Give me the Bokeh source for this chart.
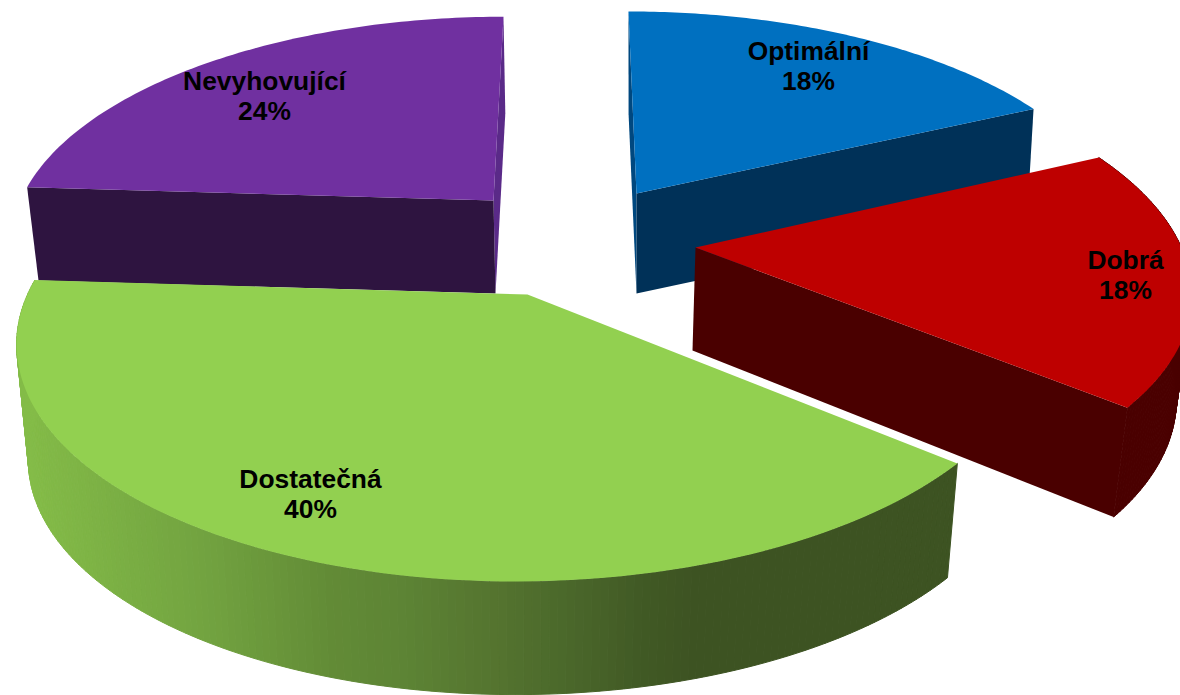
import numpy as np
from bokeh.plotting import figure
from bokeh.models import ColumnDataSource
from bokeh.core.properties import value
from bokeh.embed import file_html
from bokeh.resources import INLINE

# ---- data ----
categories = ["Optimální", "Dobrá", "Dostatečná", "Nevyhovující"]
percent = [18, 18, 40, 24]

# ---- style ----
top_colors = ["#0070C0", "#BE0000", "#92D050", "#7030A0"]
side_colors = ["#003158", "#4A0000", "#3D5322", "#2E1440"]
sliver_colors = ["#00487F", None, None, "#5A2A88"]
green_stop_x = [20, 200, 330, 400, 500, 560, 650, 700, 960]
green_stop_rgb = [(0x84, 0xBC, 0x48), (0x72, 0xA3, 0x40), (0x62, 0x8B, 0x36), (0x5D, 0x84, 0x35),
                  (0x54, 0x73, 0x2F), (0x4B, 0x69, 0x2B), (0x40, 0x58, 0x24), (0x3D, 0x53, 0x22), (0x3D, 0x53, 0x22)]

# ---- projection of each exploded slice: apex, perspective, depth ----
layout = [
    dict(ax=636, ay=193, A=475, B=213, k=0.17, D=9.4, bx=636, by=293, sx=0.985, sy=0.985, label=(808, 50)),
    dict(ax=695, ay=247, A=486, B=225.6, k=0.16, D=21, bx=692, by=350, sx=0.975, sy=1.04, label=(1125, 259)),
    dict(ax=527, ay=294, A=500, B=233.6, k=0.186, D=-10, bx=527, by=410, sx=0.977, sy=0.99, label=(310, 478)),
    dict(ax=493, ay=200, A=473, B=215, k=0.17, D=-11.7, bx=495, by=293, sx=0.98, sy=0.98, label=(264, 80)),
]
LINE_GAP = 30


def project(L, theta):
    u, v = np.cos(theta), np.sin(theta)
    w = 1 - L["k"] * v
    return (L["A"] * u + L["D"] * v) / w, L["B"] * v / w


def ring(L, theta, lower=False):
    X, Y = project(L, theta)
    if lower:
        return L["bx"] + L["sx"] * X, L["by"] + L["sy"] * Y
    return L["ax"] + X, L["ay"] + Y


total = sum(percent)
edges = np.radians(270 + 360 * np.concatenate([[0], np.cumsum(percent)]) / total)

p = figure(width=1180, height=695, x_range=(0, 1180), y_range=(695, 0),
           output_backend="svg", toolbar_location=None, min_border=0,
           background_fill_color="white", border_fill_color="white", outline_line_color=None)
p.axis.visible = False
p.grid.visible = False


def poly(xs, ys, color, seam=False):
    p.patch(list(xs), list(ys), fill_color=color,
            line_color=color if seam else None, line_width=1 if seam else 0)


def wedge(i):
    L = layout[i]
    t0, t1 = edges[i], edges[i + 1]
    th = np.linspace(t0, t1, 90)
    ax, ay = ring(L, th)
    return L, t0, t1, th, ax, ay


def radial_face(L, t, color):
    x1, y1 = ring(L, t)
    x2, y2 = ring(L, t, True)
    poly([L["ax"], x1, x2, L["bx"]], [L["ay"], y1, y2, L["by"]], color)


def draw_top(i):
    L, t0, t1, th, ax, ay = wedge(i)
    poly(np.r_[L["ax"], ax], np.r_[L["ay"], ay], top_colors[i])


# Nevyhovující (back left)
i = 3
radial_face(layout[i], edges[i + 1], sliver_colors[i])
radial_face(layout[i], edges[i], side_colors[i])
draw_top(i)

# Optimální (back right)
i = 0
radial_face(layout[i], edges[i], sliver_colors[i])
radial_face(layout[i], edges[i + 1], side_colors[i])
draw_top(i)

# Dostatečná (front) : outer wall shaded left to right
i = 2
L, t0, t1, th, ax, ay = wedge(i)
th = np.linspace(t0, t1, 181)
rgb = np.array(green_stop_rgb, dtype=float)
for a, b in zip(th[:-1], th[1:]):
    xa, ya = ring(L, a)
    xb, yb = ring(L, b)
    xc, yc = ring(L, b, True)
    xd, yd = ring(L, a, True)
    xm = (xa + xb) / 2
    c = [int(round(np.interp(xm, green_stop_x, rgb[:, n]))) for n in range(3)]
    col = "#%02X%02X%02X" % tuple(c)
    poly([xa, xb, xc, xd], [ya, yb, yc, yd], col, seam=True)
draw_top(i)

# Dobrá (right) : outer wall, front radial face, top
i = 1
L, t0, t1, th, ax, ay = wedge(i)
for a, b in zip(th[:-1], th[1:]):
    xa, ya = ring(L, a)
    xb, yb = ring(L, b)
    xc, yc = ring(L, b, True)
    xd, yd = ring(L, a, True)
    poly([xa, xb, xc, xd], [ya, yb, yc, yd], side_colors[i], seam=True)
radial_face(L, t1, side_colors[i])
draw_top(i)

# labels
src = ColumnDataSource(dict(
    x=[L["label"][0] for L in layout],
    y1=[L["label"][1] for L in layout],
    y2=[L["label"][1] + LINE_GAP for L in layout],
    name=categories,
    pct=["%d%%" % v for v in percent],
))
for yc, tc in (("y1", "name"), ("y2", "pct")):
    p.text(x="x", y=yc, text=tc, source=src, text_align="center", text_baseline="middle",
           text_font=value("Liberation Sans"), text_font_style="bold",
           text_font_size="26.4px", text_color="black")

open("out.html", "w").write(file_html(p, INLINE))
